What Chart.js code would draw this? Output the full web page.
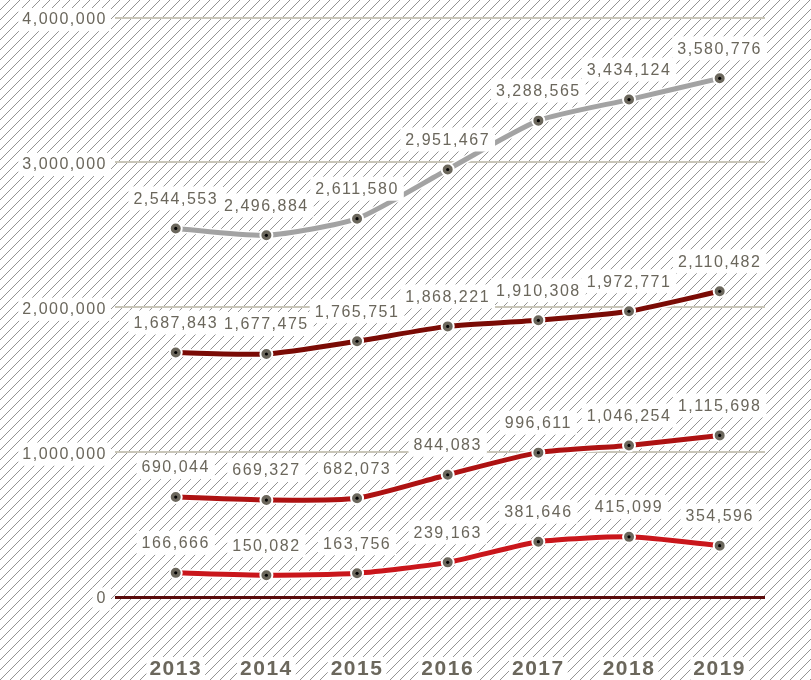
<!DOCTYPE html>
<html>
<head>
<meta charset="utf-8">
<script src="https://cdn.jsdelivr.net/npm/chart.js@4.4.1/dist/chart.umd.min.js"></script>
<style>
  html, body { margin: 0; padding: 0; background: #fff; }
  #wrap { width: 811px; height: 680px; }
</style>
</head>
<body>
<div id="wrap"><canvas id="chart" width="811" height="680"></canvas></div>
<script>
// --- data ---
const years = [2013, 2014, 2015, 2016, 2017, 2018, 2019];
const serieGris   = [2544553, 2496884, 2611580, 2951467, 3288565, 3434124, 3580776];
const serieGranate = [1687843, 1677475, 1765751, 1868221, 1910308, 1972771, 2110482];
const serieRoja   = [690044, 669327, 682073, 844083, 996611, 1046254, 1115698];
const serieClara  = [166666, 150082, 163756, 239163, 381646, 415099, 354596];
const yTicks = [0, 1000000, 2000000, 3000000, 4000000];

const TEXT = '#6b675c';
const FONT = '"Liberation Sans", Arial, Helvetica, sans-serif';

const series = [
    { values: serieGris,    color: '#a3a3a3' },
    { values: serieGranate, color: '#7a0b05' },
    { values: serieRoja,    color: '#ad1212' },
    { values: serieClara,   color: '#c9161b' }
];

const toPoints = vals => vals.map((v, i) => ({ x: years[i], y: v }));

// white halo under every line, then the coloured line on top
const datasets = [];
series.forEach(s => {
    datasets.push({
        data: toPoints(s.values),
        borderColor: '#ffffff',
        borderWidth: 8,
        pointRadius: 0,
        tension: 0.2,
        halo: true,
        order: 2
    });
});
series.forEach(s => {
    datasets.push({
        data: toPoints(s.values),
        borderColor: s.color,
        borderWidth: 5,
        pointRadius: 6,
        pointBackgroundColor: '#6b675c',
        pointBorderColor: '#ffffff',
        pointBorderWidth: 2,
        tension: 0.2,
        order: 1
    });
});

// hatched background + letter spacing on every text draw
const hatchPlugin = {
    id: 'hatch',
    beforeLayout(chart) { chart.ctx.letterSpacing = '1.5px'; },
    beforeDraw(chart) {
        const ctx = chart.ctx;
        const w = chart.width, h = chart.height;
        ctx.save();
        ctx.fillStyle = '#ffffff';
        ctx.fillRect(0, 0, w, h);
        ctx.strokeStyle = '#949494';
        ctx.lineWidth = 1;
        ctx.beginPath();
        for (let k = -h; k < w + h; k += 10) {
            ctx.moveTo(k, h);
            ctx.lineTo(k + h, 0);
        }
        ctx.stroke();
        ctx.restore();
        ctx.letterSpacing = '1.5px';
    }
};

// black centre dot on each marker and value boxes above the points
const labelPlugin = {
    id: 'valueLabels',
    afterDatasetsDraw(chart) {
        const ctx = chart.ctx;
        ctx.save();
        ctx.letterSpacing = '1.5px';
        ctx.font = '16px ' + FONT;
        ctx.textAlign = 'center';
        ctx.textBaseline = 'middle';
        chart.data.datasets.forEach((ds, di) => {
            if (ds.halo) return;
            const meta = chart.getDatasetMeta(di);
            meta.data.forEach((pt, i) => {
                ctx.fillStyle = '#000000';
                ctx.beginPath();
                ctx.arc(pt.x, pt.y, 1.6, 0, Math.PI * 2);
                ctx.fill();

                const txt = ds.data[i].y.toLocaleString('en-US');
                const tw = ctx.measureText(txt).width;
                const ty = pt.y - 30;
                ctx.fillStyle = '#ffffff';
                ctx.fillRect(pt.x - tw / 2 - 5, ty - 12, tw + 10, 24);
                ctx.fillStyle = TEXT;
                ctx.fillText(txt, pt.x, ty + 1);
            });
        });
        ctx.restore();
    }
};

const chart = new Chart(document.getElementById('chart'), {
    type: 'line',
    data: { datasets },
    plugins: [hatchPlugin, labelPlugin],
    options: {
        responsive: false,
        animation: false,
        layout: { padding: { top: 10, right: 46, bottom: 0, left: 0 } },
        plugins: {
            legend: { display: false },
            tooltip: { enabled: false }
        },
        scales: {
            x: {
                type: 'linear',
                min: 2012.33,
                max: 2019.5,
                afterBuildTicks: scale => { scale.ticks = years.map(v => ({ value: v })); },
                afterFit: scale => { scale.height = 83; },
                grid: { display: false, drawTicks: false },
                border: { display: false },
                ticks: {
                    padding: 60,
                    color: TEXT,
                    font: { family: FONT, size: 21, weight: 'bold' },
                    callback: v => String(v),
                    showLabelBackdrop: true,
                    backdropColor: '#ffffff',
                    backdropPadding: { top: 0, bottom: 0, left: 3, right: 3 },
                    maxRotation: 0
                }
            },
            y: {
                min: 0,
                max: 4000000,
                afterBuildTicks: scale => { scale.ticks = yTicks.map(v => ({ value: v })); },
                afterFit: scale => { scale.width = 115; },
                border: { display: false },
                grid: {
                    drawTicks: false,
                    color: c => c.tick && c.tick.value === 0 ? '#5a0c0c' : '#c9c6b9',
                    lineWidth: c => c.tick && c.tick.value === 0 ? 3 : 2
                },
                ticks: {
                    padding: 8,
                    labelOffset: 2,
                    color: TEXT,
                    font: { family: FONT, size: 16 },
                    callback: v => v.toLocaleString('en-US'),
                    showLabelBackdrop: true,
                    backdropColor: '#ffffff',
                    backdropPadding: { top: 2, bottom: 2, left: 4, right: 4 }
                }
            }
        }
    }
});
</script>
</body>
</html>
